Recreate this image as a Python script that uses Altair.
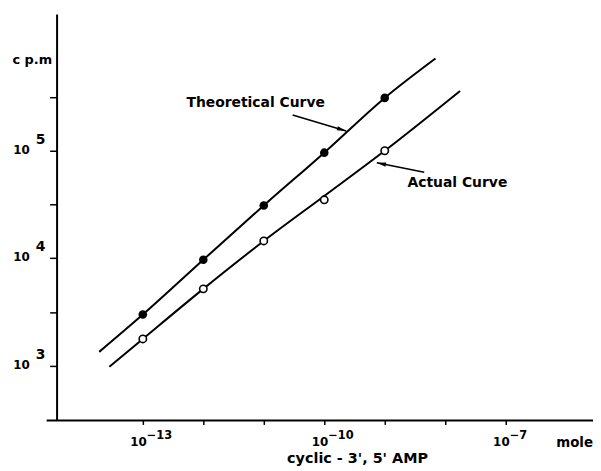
import altair as alt
import pandas as pd

# ---- data ----
theo_x = [1e-13, 1e-12, 1e-11, 1e-10, 1e-9]
theo_y = [3.0e3, 9.7e3, 3.1e4, 9.6e4, 3.1e5]
act_x = [1e-13, 1e-12, 1e-11, 1e-10, 1e-9]
act_y = [1.78e3, 5.2e3, 1.45e4, 3.5e4, 1.0e5]

# hand-drawn curves as they appear (start, path, end)
theo_line_x = [1.9e-14, 1e-13, 1e-12, 1e-11, 1e-10, 1e-9, 6.9e-9]
theo_line_y = [1.35e3, 3.0e3, 9.7e3, 3.1e4, 9.6e4, 3.1e5, 7.2e5]
act_line_x = [2.8e-14, 1e-13, 1e-12, 1e-11, 1e-10, 1e-9, 1.76e-8]
act_line_y = [9.8e2, 1.78e3, 5.2e3, 1.45e4, 3.8e4, 1.0e5, 3.6e5]

x_tick_values = [1e-13, 1e-12, 1e-11, 1e-10, 1e-9, 1e-8, 1e-7]
x_label_values = [1e-13, 1e-10, 1e-7]
x_label_exps = ["\u221213", "\u221210", "\u22127"]
y_tick_values = [1e3, 10**3.5, 1e4, 10**4.5, 1e5, 10**5.5]
y_label_values = [1e3, 1e4, 1e5]
y_label_exps = ["3", "4", "5"]

ann_text = ["Theoretical Curve", "Actual  Curve"]
ann_x = [5.26e-13, 2.38e-9]
ann_y = [2.77e5, 4.97e4]
arrow_x1 = [3.0e-11, 4.5e-9]
arrow_y1 = [2.15e5, 6.3e4]
arrow_x2 = [2.3e-10, 7.4e-10]
arrow_y2 = [1.53e5, 7.75e4]
arrow_angle = [17, 12]
arrow_shape = ["M0,0L-2.4,-0.55L-2.4,0.55Z", "M0,0L2.4,-0.55L2.4,0.55Z"]

FONT = "DejaVu Sans"
W, H = 536, 410

xs = alt.Scale(type="log", domain=[3.75e-15, 2.30e-6], nice=False, zero=False)
ys = alt.Scale(type="log", domain=[311, 1.871e6], nice=False, zero=False)

theo_pts = pd.DataFrame({"x": theo_x, "y": theo_y})
act_pts = pd.DataFrame({"x": act_x, "y": act_y})
theo_line = pd.DataFrame({"x": theo_line_x, "y": theo_line_y, "o": range(len(theo_line_x))})
act_line = pd.DataFrame({"x": act_line_x, "y": act_line_y, "o": range(len(act_line_x))})

x_axis = alt.Axis(values=x_tick_values, labels=False, domain=False, tickSize=4,
                  tickWidth=1.5, tickColor="black", grid=False,
                  title="cyclic - 3', 5' AMP", titleFont=FONT, titleFontSize=14.5,
                  titleFontWeight="bold", titleX=303, titleY=38,
                  titleBaseline="middle", titleAlign="center", titleColor="black")
y_axis = alt.Axis(values=y_tick_values, labels=False, domain=True, domainWidth=2,
                  domainColor="black", tickSize=7, tickWidth=1.5, tickColor="black",
                  grid=False, title="c p.m", titleAngle=0, titleFont=FONT,
                  titleFontSize=13, titleFontWeight="bold", titleAlign="right",
                  titleBaseline="middle", titleX=-5, titleY=46, titleColor="black")

line_t = alt.Chart(theo_line).mark_line(color="black", strokeWidth=2, interpolate="monotone").encode(
    x=alt.X("x:Q", scale=xs, axis=x_axis),
    y=alt.Y("y:Q", scale=ys, axis=y_axis),
    order="o:Q",
)
line_a = alt.Chart(act_line).mark_line(color="black", strokeWidth=2, interpolate="monotone").encode(
    x=alt.X("x:Q", scale=xs), y=alt.Y("y:Q", scale=ys), order="o:Q"
)
pts_t = alt.Chart(theo_pts).mark_point(shape="circle", filled=True, color="black", size=75, opacity=1).encode(
    x=alt.X("x:Q", scale=xs), y=alt.Y("y:Q", scale=ys)
)
pts_a = alt.Chart(act_pts).mark_point(shape="circle", filled=True, fill="white", stroke="black",
                                      strokeWidth=1.6, size=55, opacity=1).encode(
    x=alt.X("x:Q", scale=xs), y=alt.Y("y:Q", scale=ys)
)

# x axis line (extends slightly left of the y axis)
x_domain = alt.Chart(pd.DataFrame({"a": [0]})).mark_rule(color="black", strokeWidth=2).encode(
    x=alt.value(-10), x2=alt.value(W + 5), y=alt.value(H)
)

# tick labels: "10" with exponent
xl = pd.DataFrame({"x": x_label_values, "e": x_label_exps})
xl_base = alt.Chart(xl).mark_text(text="10", font=FONT, fontSize=12, fontWeight="bold",
                                  align="right", baseline="middle", dx=4, color="black").encode(
    x=alt.X("x:Q", scale=xs), y=alt.value(H + 22)
)
xl_exp = alt.Chart(xl).mark_text(font=FONT, fontSize=11.5, fontWeight="bold", align="left",
                                 baseline="middle", dx=4, color="black").encode(
    x=alt.X("x:Q", scale=xs), y=alt.value(H + 16), text="e:N"
)
yl = pd.DataFrame({"y": y_label_values, "e": y_label_exps})
yl_base = alt.Chart(yl).mark_text(text="10", font=FONT, fontSize=12, fontWeight="bold",
                                  align="right", baseline="middle", dy=-1, color="black").encode(
    y=alt.Y("y:Q", scale=ys), x=alt.value(-27)
)
yl_exp = alt.Chart(yl).mark_text(font=FONT, fontSize=14, fontWeight="bold", align="left",
                                 baseline="middle", dy=-11, color="black").encode(
    y=alt.Y("y:Q", scale=ys), x=alt.value(-21), text="e:N"
)

mole = alt.Chart(pd.DataFrame({"t": ["mole"]})).mark_text(
    font=FONT, fontSize=13.5, fontWeight="bold", align="right", baseline="middle", color="black"
).encode(text="t:N", x=alt.value(W + 5), y=alt.value(H + 23))

ann = pd.DataFrame({"t": ann_text, "x": ann_x, "y": ann_y})
ann_txt = alt.Chart(ann).mark_text(font=FONT, fontSize=14, fontWeight="bold", align="left",
                                   baseline="middle", color="black").encode(
    x=alt.X("x:Q", scale=xs), y=alt.Y("y:Q", scale=ys), text="t:N"
)
arr = pd.DataFrame({"x1": arrow_x1, "y1": arrow_y1, "x2": arrow_x2, "y2": arrow_y2,
                    "ang": arrow_angle, "shp": arrow_shape})
arr_line = alt.Chart(arr).mark_rule(color="black", strokeWidth=1.6).encode(
    x=alt.X("x1:Q", scale=xs), y=alt.Y("y1:Q", scale=ys),
    x2="x2:Q", y2="y2:Q"
)
arr_head = alt.Chart(arr).mark_point(filled=True, color="black", size=60, opacity=1).encode(
    x=alt.X("x2:Q", scale=xs), y=alt.Y("y2:Q", scale=ys),
    angle=alt.Angle("ang:Q", scale=None),
    shape=alt.Shape("shp:N", scale=None, legend=None),
)

chart = alt.layer(
    line_t, line_a, pts_t, pts_a, x_domain, xl_base, xl_exp, yl_base, yl_exp,
    mole, ann_txt, arr_line, arr_head
).properties(
    width=W, height=H,
    padding={"left": 49, "top": 4, "right": 5, "bottom": 48},
    autosize=alt.AutoSizeParams(type="none"),
    background="white",
).configure_view(stroke=None)

chart.save("out.html", embed_options={"renderer": "svg", "actions": False})
